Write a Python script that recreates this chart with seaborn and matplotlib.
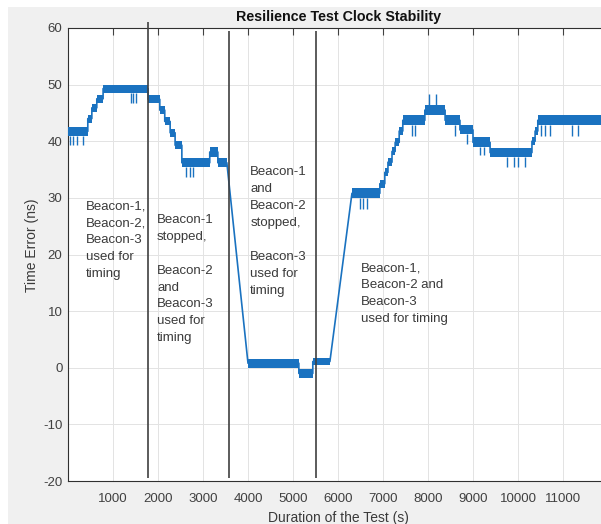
import numpy as np
import pandas as pd
import matplotlib.pyplot as plt
import seaborn as sns
from matplotlib.patches import Rectangle

# --------------------------
# Data
# --------------------------
# plateaus of the time error trace: start / end time (s), band low / high (ns)
seg_start = [0, 440, 530, 640, 780, 1780, 2040, 2150, 2270, 2380, 2530, 3150, 3330,
             4000, 5130, 5440,
             6310, 6930, 7040, 7110, 7200, 7270, 7360, 7440, 7930, 8380, 8710, 9000,
             9380, 10310, 10380, 10440]
seg_end = [440, 530, 640, 780, 1780, 2040, 2150, 2270, 2380, 2530, 3150, 3330, 3530,
           5130, 5440, 5820,
           6930, 7040, 7110, 7200, 7270, 7360, 7440, 7930, 8380, 8710, 9000, 9380,
           10310, 10380, 10440, 12000]
band_lo = [41.0, 43.3, 45.2, 46.8, 48.6, 46.7, 44.8, 42.8, 40.8, 38.6, 35.4, 37.3, 35.4,
           0.0, -1.8, 0.4,
           29.9, 31.8, 33.8, 35.6, 37.5, 39.1, 41.1, 42.8, 44.6, 42.8, 41.2, 38.9,
           37.2, 39.3, 41.1, 42.8]
band_hi = [42.5, 44.7, 46.6, 48.2, 50.0, 48.1, 46.2, 44.2, 42.2, 40.0, 37.0, 38.9, 37.0,
           1.6, -0.2, 1.8,
           31.7, 33.2, 35.2, 37.0, 38.9, 40.5, 42.5, 44.6, 46.4, 44.6, 42.8, 40.7,
           38.8, 40.7, 42.5, 44.6]

# short excursions below / above the band
dip_x = [50, 120, 200, 330, 1400, 1450, 1520, 2620, 2700, 2780, 6480, 6560, 6650,
         7640, 7720, 8600, 8870, 9150, 9250, 9750, 9900, 10000, 10150,
         10520, 10600, 10700, 11200, 11330]
dip_y = [39.3, 39.3, 39.3, 39.3, 46.7, 46.7, 46.7, 33.6, 33.6, 33.6, 28.1, 28.1, 28.1,
         41.0, 41.0, 41.0, 39.6, 37.5, 37.5, 35.4, 35.4, 35.4, 35.4,
         41.0, 41.0, 41.0, 41.0, 41.0]
spike_x = [8020, 8180]
spike_y = [48.3, 48.3]

# beacon change-over markers
sep_x = [1778, 3570, 5520]
sep_top = [61, 59.5, 59.5]
sep_bottom = -19.5

notes = [
    (400, 29.6, "Beacon-1,\nBeacon-2,\nBeacon-3\nused for\ntiming"),
    (1980, 27.2, "Beacon-1\nstopped,\n\nBeacon-2\nand\nBeacon-3\nused for\ntiming"),
    (4050, 35.6, "Beacon-1\nand\nBeacon-2\nstopped,\n\nBeacon-3\nused for\ntiming"),
    (6510, 18.6, "Beacon-1,\nBeacon-2 and\nBeacon-3\nused for timing"),
]

# --------------------------
# Plot
# --------------------------
sns.set_style("white")
plt.rcParams['font.family'] = ['Liberation Sans', 'DejaVu Sans']
plt.rcParams['axes.unicode_minus'] = False

BLUE = "#1a72c0"
TXT = "#3a3a3a"

fig = plt.figure(figsize=(6.01, 5.24), dpi=100, facecolor="white")
bg = Rectangle((8 / 601, 0), 1, (524 - 7) / 524, transform=fig.transFigure,
               facecolor="#f0f0f0", edgecolor="none", zorder=-10)
fig.add_artist(bg)
ax = fig.add_axes([68 / 601, 43 / 524, 540 / 601, 453 / 524])
ax.set_facecolor("white")

# trace through the middle of each plateau
trace_x, trace_y = [], []
for s, e, lo, hi in zip(seg_start, seg_end, band_lo, band_hi):
    trace_x += [s, e]
    trace_y += [(lo + hi) / 2, (lo + hi) / 2]
trace = pd.DataFrame({"t": trace_x, "err": trace_y})
sns.lineplot(data=trace, x="t", y="err", sort=False, estimator=None,
             color=BLUE, linewidth=1.2, ax=ax, zorder=3)

for s, e, lo, hi in zip(seg_start, seg_end, band_lo, band_hi):
    ax.fill_between([s, e], lo, hi, color=BLUE, linewidth=0, zorder=3)

idx = np.searchsorted(seg_start, dip_x, side="right") - 1
ax.vlines(dip_x, np.array(band_lo)[idx], dip_y, color=BLUE, linewidth=1.0, zorder=3)
idx = np.searchsorted(seg_start, spike_x, side="right") - 1
ax.vlines(spike_x, np.array(band_hi)[idx], spike_y, color=BLUE, linewidth=1.0, zorder=3)

ax.vlines(sep_x, sep_bottom, sep_top, color="#404040", linewidth=1.2,
          clip_on=False, zorder=4)

for x, y, txt in notes:
    ax.text(x, y, txt, fontsize=9.5, color=TXT, va="top", ha="left",
            linespacing=1.55, zorder=5)

ax.set_xlim(0, 12000)
ax.set_ylim(-20, 60)
ax.set_xticks(range(1000, 12000, 1000))
ax.set_yticks(range(-20, 61, 10))
ax.grid(True, color="#e3e3e3", linewidth=0.7)
ax.set_axisbelow(True)
ax.tick_params(direction="in", length=5, width=0.8, colors="#404040",
               labelsize=9.5, top=True, right=True)
ax.tick_params(axis="x", pad=9)
ax.tick_params(axis="y", pad=4)
for sp in ax.spines.values():
    sp.set_color("#303030")
    sp.set_linewidth(0.8)

ax.set_title("Resilience Test Clock Stability", fontsize=10.3, fontweight="bold",
             color="#111111", pad=5)
ax.set_xlabel("Duration of the Test (s)", fontsize=10, color=TXT, labelpad=4)
ax.set_ylabel("Time Error (ns)", fontsize=10, color=TXT)
ax.yaxis.set_label_coords(-0.053, 0.52)

plt.savefig("out.png", dpi=100, facecolor=fig.get_facecolor())
plt.close()
